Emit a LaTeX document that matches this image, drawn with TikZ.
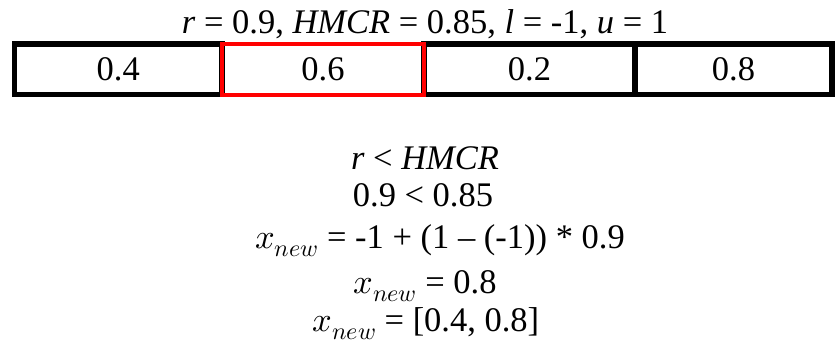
\documentclass[tikz,border=0pt]{standalone}
\usepackage{unicode-math}
\setmainfont{Liberation Serif}
\setmathfont{Latin Modern Math}
\begin{document}
\begin{tikzpicture}[x=1pt,y=-1pt,
  cell/.style={draw=black,line width=5.5pt,minimum height=50.5pt,inner sep=0pt,outer sep=0pt,font=\fontsize{34.5}{34.5}\selectfont,anchor=center},
  redcell/.style={cell,draw=red,line width=4pt},
  eq/.style={font=\fontsize{34.5}{34.5}\selectfont,anchor=base,inner sep=0pt}]
\useasboundingbox (0,0) rectangle (835,343);
\node[eq] (title) at (425,33) {\textit{r} = 0.9, \textit{HMCR} = 0.85, \textit{l} = -1, \textit{u} = 1};
\node[cell,minimum width=207.5pt] (c1) at (118.25,69.25) {0.4};
\node[cell,minimum width=211pt] (c3) at (529.5,69.25) {0.2};
\node[cell,minimum width=197pt] (c4) at (733.5,69.25) {0.8};
\node[redcell,minimum width=202pt] (c2) at (323,69.25) {0.6};
\node[eq] (e1) at (425,169) {\textit{r} < \textit{HMCR}};
\node[eq] (e2) at (423,206) {0.9 < 0.85};
\node[eq] (e3) at (440,248) {$x_{new}$ = -1 + (1 – (-1)) * 0.9};
\node[eq] (e4) at (425,293) {$x_{new}$ = 0.8};
\node[eq] (e5) at (426,331) {$x_{new}$ = [0.4, 0.8]};
\end{tikzpicture}
\end{document}
